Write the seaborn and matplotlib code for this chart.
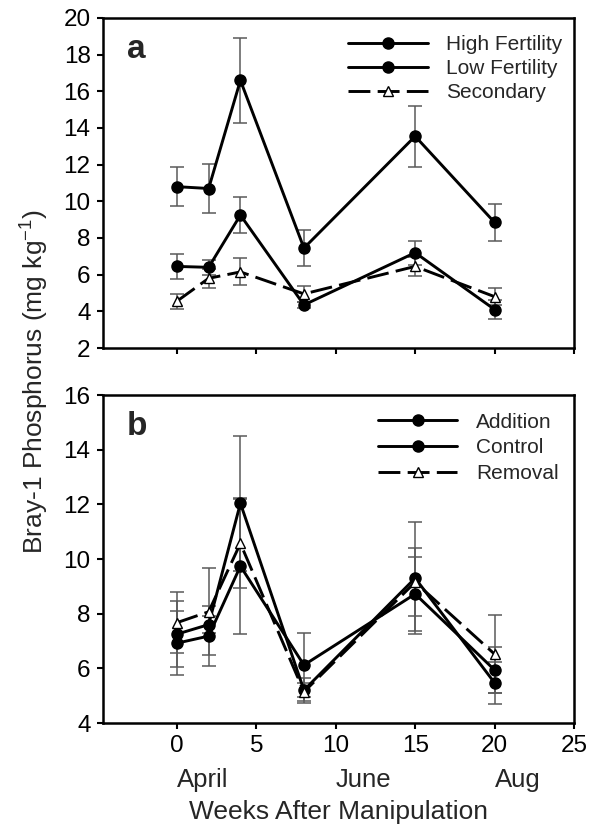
import numpy as np
import pandas as pd
import matplotlib
matplotlib.use("Agg")
import matplotlib.pyplot as plt
import matplotlib.transforms as mtransforms
import seaborn as sns

# Data (weeks after manipulation)
weeks = [0, 2, 4, 8, 15, 20]

# Panel a
high_fert = [10.8, 10.7, 16.6, 7.45, 13.55, 8.85]
high_fert_se = [1.07, 1.35, 2.3, 1.0, 1.65, 1.03]
low_fert = [6.45, 6.4, 9.25, 4.35, 7.2, 4.1]
low_fert_se = [0.7, 0.4, 1.0, 0.15, 0.65, 0.5]
secondary = [4.55, 5.8, 6.15, 4.95, 6.45, 4.8]
secondary_se = [0.42, 0.5, 0.74, 0.45, 0.5, 0.47]

# Panel b
addition = [7.25, 7.6, 12.04, 5.2, 9.3, 5.47]
addition_se = [1.2, 0.3, 2.47, 0.45, 2.06, 0.78]
control = [6.92, 7.18, 9.74, 6.12, 8.72, 5.94]
control_se = [1.18, 1.1, 2.49, 1.18, 1.36, 0.85]
removal = [7.67, 8.07, 10.57, 5.14, 9.15, 6.52]
removal_se = [1.11, 1.6, 1.63, 0.33, 1.24, 1.43]

month_labels = ["April", "June", "Aug"]
month_weeks = [0, 10, 20]

sns.set_style("white")
plt.rcParams['font.family'] = ['Liberation Sans', 'DejaVu Sans']
plt.rcParams['axes.unicode_minus'] = False

fig = plt.figure(figsize=(5.99, 8.25), dpi=100)
ax_a = fig.add_axes([103/599, 1 - 348/825, 471/599, 330/825])
ax_b = fig.add_axes([103/599, 1 - 723/825, 471/599, 328/825])

ERR_COLOR = "#5a5a5a"
LW = 2.1
DASH = (0, (7.5, 2.5))


def draw_series(ax, y, se, label, marker, mfc, ls):
    ax.errorbar(weeks, y, yerr=se, fmt="none", ecolor=ERR_COLOR,
                elinewidth=1.1, capsize=5, capthick=1.1, zorder=1)
    sns.lineplot(x=weeks, y=y, ax=ax, color="black", lw=LW, linestyle=ls,
                 marker=marker, markersize=8 if marker == "o" else 7.5,
                 markerfacecolor=mfc, markeredgecolor="black",
                 markeredgewidth=1.0, label=label, zorder=3)


draw_series(ax_a, high_fert, high_fert_se, "High Fertility", "o", "black", "-")
draw_series(ax_a, low_fert, low_fert_se, "Low Fertility", "o", "black", "-")
draw_series(ax_a, secondary, secondary_se, "Secondary", "^", "white", DASH)

draw_series(ax_b, addition, addition_se, "Addition", "o", "black", "-")
draw_series(ax_b, control, control_se, "Control", "o", "black", "-")
draw_series(ax_b, removal, removal_se, "Removal", "^", "white", DASH)

for ax, ylim, yt in [(ax_a, (2, 20), np.arange(2, 21, 2)),
                     (ax_b, (4, 16), np.arange(4, 17, 2))]:
    ax.set_xlim(-4.65, 25)
    ax.set_ylim(*ylim)
    ax.set_yticks(yt)
    ax.set_xticks(np.arange(0, 26, 5))
    ax.set_xlabel("")
    ax.set_ylabel("")
    for sp in ax.spines.values():
        sp.set_linewidth(1.8)
        sp.set_color("black")
    ax.tick_params(axis="both", direction="out", length=4, width=1.5,
                   labelsize=17.5, colors="black", pad=5,
                   bottom=True, left=True)

ax_a.tick_params(axis="x", labelbottom=False)

ax_a.text(0.05, 0.905, "a", transform=ax_a.transAxes, fontsize=24,
          fontweight="bold", va="center", ha="left")
ax_b.text(0.05, 0.905, "b", transform=ax_b.transAxes, fontsize=24,
          fontweight="bold", va="center", ha="left")

ax_a.legend(loc="upper right", bbox_to_anchor=(1.02, 1.012), frameon=False,
            fontsize=15, handlelength=3.8, handletextpad=0.9,
            labelspacing=0.25, borderaxespad=0.6)
ax_b.legend(loc="upper right", bbox_to_anchor=(1.012, 1.01), frameon=False,
            fontsize=15, handlelength=3.8, handletextpad=0.9,
            labelspacing=0.33, borderaxespad=0.6)

trans = mtransforms.blended_transform_factory(ax_b.transData, ax_b.transAxes)
for m, w in zip(month_labels, month_weeks):
    ax_b.text(w, -0.174, m, transform=trans, fontsize=18.5, ha="left", va="center")

ax_b.set_xlabel("Weeks After Manipulation", fontsize=19)
ax_b.xaxis.set_label_coords(0.5, -0.271)
ax_b.xaxis.label.set_va("center")

fig.text(34/599, 1 - 381/825, "Bray-1 Phosphorus (mg kg$^{\\mathregular{-1}}$)",
         rotation=90, fontsize=19, ha="center", va="center")

fig.savefig("out.png", dpi=100)
